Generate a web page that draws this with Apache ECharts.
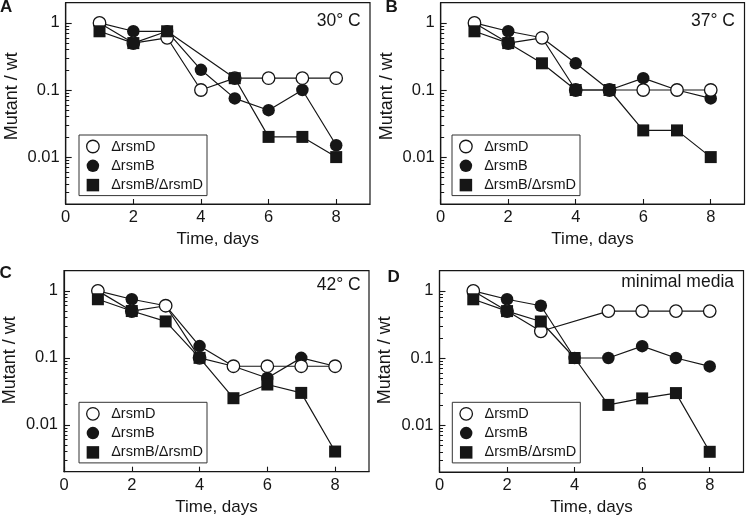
<!DOCTYPE html>
<html><head><meta charset="utf-8">
<script src="https://cdn.jsdelivr.net/npm/echarts@6/dist/echarts.min.js"></script>
<style>html,body{margin:0;padding:0;background:#fff}#c{width:746px;height:518px}</style>
</head><body><div id="c"></div>
<script>
// ---------- data ----------
const days = [1, 2, 3, 4, 5, 6, 7, 8];
const seriesNames = ['ΔrsmD', 'ΔrsmB', 'ΔrsmB/ΔrsmD'];
const panelLetters = ['A', 'B', 'C', 'D'];
const panelNotes = ['30° C', '37° C', '42° C', 'minimal media'];
const xTickValues = [0, 2, 4, 6, 8];
const yMajorTicks = [0.01, 0.1, 1];
const yMinorTicks = [0.003, 0.004, 0.005, 0.006, 0.007, 0.008, 0.009,
  0.02, 0.03, 0.04, 0.05, 0.06, 0.07, 0.08, 0.09,
  0.2, 0.3, 0.4, 0.5, 0.6, 0.7, 0.8, 0.9];
const xAxisTitle = 'Time, days';
const yAxisTitle = 'Mutant / wt';

// Panel A (30 C)
const rsmD_A = [1, 0.5, 0.6, 0.1, 0.15, 0.15, 0.15, 0.15];
const rsmB_A = [1, 0.75, 0.75, 0.2, 0.075, 0.05, 0.1, 0.015];
const double_A = [0.75, 0.5, 0.75, null, 0.15, 0.02, 0.02, 0.01];
// Panel B (37 C)
const rsmD_B = [1, 0.5, 0.6, 0.1, 0.1, 0.1, 0.1, 0.1];
const rsmB_B = [1, 0.75, 0.6, 0.25, 0.1, 0.15, 0.1, 0.075];
const double_B = [0.75, 0.5, 0.25, 0.1, 0.1, 0.025, 0.025, 0.01];
// Panel C (42 C)
const rsmD_C = [1, 0.5, 0.6, 0.1, 0.075, 0.075, 0.075, 0.075];
const rsmB_C = [1, 0.75, 0.6, 0.15, 0.075, 0.05, 0.1, 0.075];
const double_C = [0.75, 0.5, 0.35, 0.1, 0.025, 0.04, 0.03, 0.004];
// Panel D (minimal media)
const rsmD_D = [1, 0.5, 0.25, null, 0.5, 0.5, 0.5, 0.5];
const rsmB_D = [1, 0.75, 0.6, 0.1, 0.1, 0.15, 0.1, 0.075];
const double_D = [0.75, 0.5, 0.35, 0.1, 0.02, 0.025, 0.03, 0.004];

const panelData = [
  [rsmD_A, rsmB_A, double_A],
  [rsmD_B, rsmB_B, double_B],
  [rsmD_C, rsmB_C, double_C],
  [rsmD_D, rsmB_D, double_D]
];

// ---------- layout / style ----------
const INK = '#161616';
const FONT = '"Liberation Sans", Arial, sans-serif';
const grids = [
  {left: 65.7, top: 2.7, width: 304.3, height: 201.3},
  {left: 440.7, top: 2.7, width: 303.8, height: 201.3},
  {left: 64, top: 270.7, width: 305, height: 201},
  {left: 439.5, top: 270.7, width: 304, height: 201.3}
];
const legendPos = [
  {left: 79, top: 135}, {left: 452, top: 135},
  {left: 79, top: 402.3}, {left: 452.3, top: 402.3}
];
const notePos = [[360.7, 21], [735, 21], [360.7, 285], [734, 282.3]];
const letterPos = [[0, 7], [385.5, 7.5], [-0.5, 273], [387.5, 277.7]];
const nameShift = [14, 14, 22, 22];
// drawing order: filled circles below open circles, squares on top
const seriesZ = [3, 2, 4];

const symbolStyles = [
  {symbol: 'circle', symbolSize: 12.5, itemStyle: {color: '#fff', borderColor: INK, borderWidth: 1.3}},
  {symbol: 'circle', symbolSize: 12.5, itemStyle: {color: INK, borderColor: INK, borderWidth: 0}},
  {symbol: 'rect', symbolSize: 12, itemStyle: {color: INK, borderColor: INK, borderWidth: 0}}
];

const fmt = v => String(+Number(v).toPrecision(3));

const option = {
  animation: false,
  backgroundColor: '#fff',
  grid: [], xAxis: [], yAxis: [], series: [], legend: [], graphic: []
};

for (let p = 0; p < 4; p++) {
  option.grid.push(Object.assign({show: true, borderColor: INK, borderWidth: 1.2, backgroundColor: 'transparent'}, grids[p]));
  option.xAxis.push({
    type: 'value', gridIndex: p, min: 0, max: 9, interval: 2,
    axisLine: {show: true, lineStyle: {color: INK, width: 1.2}},
    axisTick: {show: true, inside: true, length: 5, customValues: xTickValues, lineStyle: {color: INK, width: 1.1}},
    axisLabel: {customValues: xTickValues, fontSize: 16.5, color: INK, fontFamily: FONT, margin: 5},
    splitLine: {show: false},
    name: xAxisTitle, nameLocation: 'middle', nameGap: 27,
    nameTextStyle: {fontSize: 17, color: INK, fontFamily: FONT}
  });
  option.yAxis.push({
    type: 'log', logBase: 10, gridIndex: p, min: 0.002, max: 2,
    axisLine: {show: true, lineStyle: {color: INK, width: 1.2}},
    axisTick: {show: true, inside: true, length: 6, customValues: yMajorTicks, lineStyle: {color: INK, width: 1.1}},
    axisLabel: {customValues: yMajorTicks, formatter: fmt, fontSize: 16.5, color: INK, fontFamily: FONT, margin: 6},
    splitLine: {show: false},
    name: yAxisTitle, nameLocation: 'middle', nameGap: 45,
    nameTextStyle: {fontSize: 18, color: INK, fontFamily: FONT, padding: [0, 0, 0, nameShift[p]]}
  });
  option.yAxis.push({
    type: 'log', logBase: 10, gridIndex: p, min: 0.002, max: 2, position: 'left',
    axisLine: {show: false},
    axisTick: {show: true, inside: true, length: 3.5, customValues: yMinorTicks, lineStyle: {color: INK, width: 1}},
    axisLabel: {show: false},
    splitLine: {show: false}
  });
  for (let s = 0; s < 3; s++) {
    const vals = panelData[p][s];
    const data = days.map((d, i) => [d, vals[i]]).filter(v => v[1] !== null);
    option.series.push(Object.assign({
      type: 'line', name: seriesNames[s], xAxisIndex: p, yAxisIndex: 2 * p,
      data: data, showSymbol: true, showAllSymbol: true,
      lineStyle: {color: INK, width: 1.2}, z: seriesZ[s]
    }, symbolStyles[s]));
  }
  option.legend.push({
    left: legendPos[p].left, top: legendPos[p].top, orient: 'vertical',
    width: 120, padding: [4, 4, 3, 7], itemGap: 4.3, itemWidth: 12.5, itemHeight: 12.5,
    borderColor: '#333', borderWidth: 1, backgroundColor: '#fff',
    selectedMode: false,
    textStyle: {fontSize: 14.5, color: INK, fontFamily: FONT, padding: [0, 0, 0, 7]},
    data: [
      {name: seriesNames[0], icon: 'circle', itemStyle: {color: '#fff', borderColor: INK, borderWidth: 1.3}},
      {name: seriesNames[1], icon: 'circle', itemStyle: {color: INK, borderWidth: 0}},
      {name: seriesNames[2], icon: 'rect', itemStyle: {color: INK, borderWidth: 0}}
    ]
  });
  option.graphic.push({
    type: 'text', x: notePos[p][0], y: notePos[p][1], z: 100,
    style: {text: panelNotes[p], fill: INK, font: '17.5px ' + FONT, align: 'right', verticalAlign: 'middle', textAlign: 'right', textVerticalAlign: 'middle'}
  });
  option.graphic.push({
    type: 'text', x: letterPos[p][0], y: letterPos[p][1], z: 100,
    style: {text: panelLetters[p], fill: INK, font: 'bold 17px ' + FONT, align: 'left', verticalAlign: 'middle', textAlign: 'left', textVerticalAlign: 'middle'}
  });
}

const chart = echarts.init(document.getElementById('c'), null, {renderer: 'canvas'});
chart.setOption(option);
</script>
</body></html>
